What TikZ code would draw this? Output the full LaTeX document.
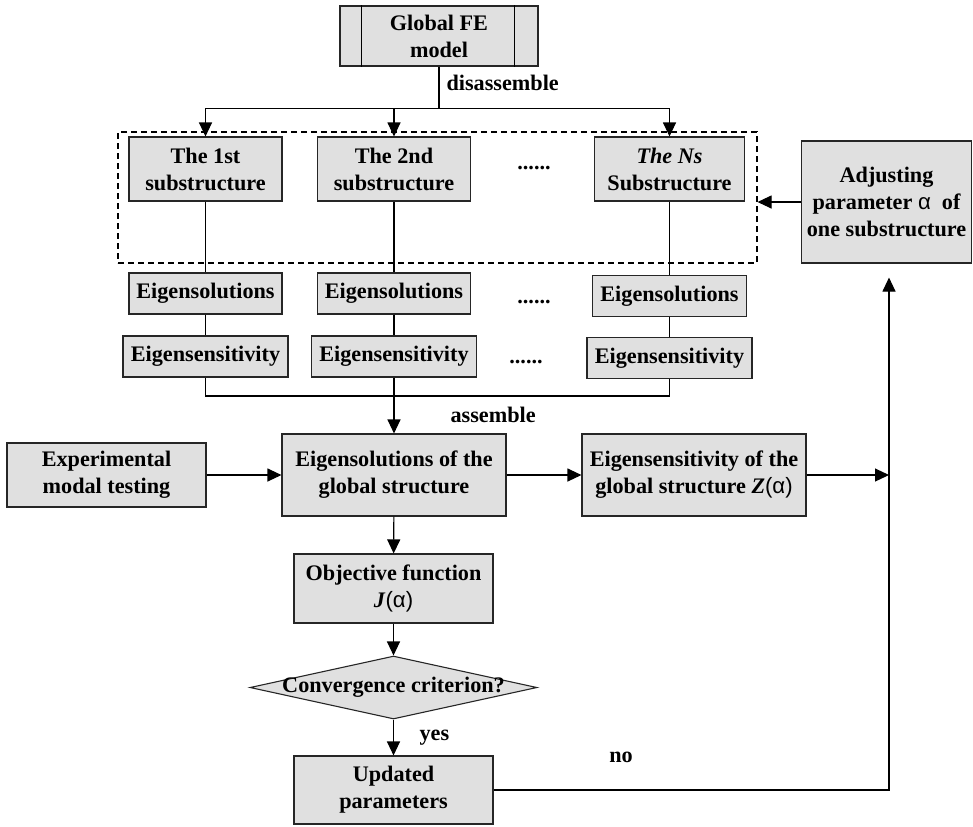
\documentclass[tikz,border=0pt]{standalone}
\usepackage{fontspec}
\setmainfont{Liberation Serif}
\newfontfamily\alphafont{Liberation Sans}
\usetikzlibrary{arrows.meta,shapes.geometric}
\definecolor{boxgray}{RGB}{224,224,224}
\tikzset{
  blk/.style={draw=black!85,fill=boxgray,align=center,inner sep=0pt,
    font=\fontsize{11.1pt}{13.5pt}\selectfont\bfseries},
  dec/.style={blk,diamond,aspect=4.56,inner xsep=-12pt},
  lbl/.style={inner sep=0pt,font=\fontsize{11.1pt}{13.5pt}\selectfont\bfseries},
  arr/.style={-{Triangle[length=7pt,width=6.5pt]}},
}
\newcommand{\alp}{{\alphafont\mdseries α}}
\begin{document}
\begin{tikzpicture}[x=0.5pt,y=-0.5pt,line width=0.55pt]
\useasboundingbox (0,0) rectangle (973,826);
% top model and the substructures
\node[blk,minimum width=99pt,minimum height=30pt] (glob) at (439,36) {Global FE\\model};
\draw ([xshift=11pt]glob.north west)--([xshift=11pt]glob.south west)
([xshift=-12pt]glob.north east)--([xshift=-12pt]glob.south east);
\node[lbl,anchor=west] (dis) at (446,83) {disassemble};
\node[draw,dash pattern=on 3pt off 2pt,minimum width=319.5pt,minimum height=65.5pt,inner sep=0pt] (grp) at (437.5,197.5) {};
\node[blk,minimum width=76.5pt,minimum height=32pt] (sub1) at (205.5,169) {The 1st\\substructure};
\node[blk,minimum width=76.5pt,minimum height=32pt] (sub2) at (394,169) {The 2nd\\substructure};
\node[blk,minimum width=75pt,minimum height=32pt] (subn) at (669.5,169) {\textit{The Ns}\\Substructure};
\node[lbl] (dots1) at (534,168) {......};
\node[blk,minimum width=76.5pt,minimum height=20.5pt] (sol1) at (205.5,293.5) {Eigensolutions};
\node[blk,minimum width=76.5pt,minimum height=20.5pt] (sol2) at (394,293.5) {Eigensolutions};
\node[blk,minimum width=77pt,minimum height=20.5pt] (soln) at (669.5,296) {Eigensolutions};
\node[lbl] (dots2) at (534,302) {......};
\node[blk,minimum width=82.5pt,minimum height=20.5pt] (sens1) at (205.5,356.5) {Eigensensitivity};
\node[blk,minimum width=82.5pt,minimum height=20.5pt] (sens2) at (394,356.5) {Eigensensitivity};
\node[blk,minimum width=82.5pt,minimum height=20.5pt] (sensn) at (669.5,358) {Eigensensitivity};
\node[lbl] (dots3) at (526,362) {......};
\draw(glob.south)--++(0,42)coordinate(dsm);
\draw[arr](dsm)-|(sub1.north);
\draw[arr](dsm)-|(subn.north);
\draw[arr](sub2.north|-dsm)--(sub2.north);
\draw(sub1)--(sol1)--(sens1) (sub2)--(sol2)--(sens2) (subn)--(soln)--(sensn);
\coordinate (asm) at (394,396);
\draw(sens1.south)|-(asm)-|(sensn.south);
\node[lbl,anchor=west] (asmtxt) at (450,415) {assemble};
% global level
\node[blk,minimum width=99.5pt,minimum height=32pt] (exp) at (106.5,475) {Experimental\\modal testing};
\node[blk,minimum width=112pt,minimum height=41pt] (geig) at (394,475) {Eigensolutions of the\\global structure};
\node[blk,minimum width=112pt,minimum height=41pt] (gsens) at (694,475) {Eigensensitivity of the\\global structure \textit{Z}{\alphafont\mdseries (α)}};
\node[blk,minimum width=85pt,minimum height=61pt] (adj) at (886.5,202) {Adjusting\\parameter \alp~ of\\one substructure};
\draw[arr](sens2.south)--(geig.north);
\draw[arr](exp)--(geig);
\draw[arr](geig)--(gsens);
\coordinate (turn) at (889,789);
\draw[arr](gsens.east)--(gsens.east-|turn);
\draw[arr](adj.west)--(adj.west-|grp.east);
% update loop
\node[blk,minimum width=99.5pt,minimum height=34.5pt] (obj) at (393.5,588.5) {Objective function\\\textit{J}{\alphafont\mdseries (α)}};
\node[dec,minimum width=143.5pt,minimum height=31.5pt] (cond) at (393.5,687.5) {Convergence criterion?};
\node[blk,minimum width=99.5pt,minimum height=34pt] (upd) at (393.5,790) {Updated\\parameters};
\draw[arr](geig)--(obj);
\draw[arr](obj)--(cond);
\draw[arr](cond)--(upd);
\node[lbl,anchor=west] (yes) at (419,738) {yes};
\node[lbl] (no) at (621,757) {no};
\draw[arr,shorten >=7pt](upd.east)--(upd.east-|turn)--(adj.south-|turn);
\end{tikzpicture}
\end{document}
